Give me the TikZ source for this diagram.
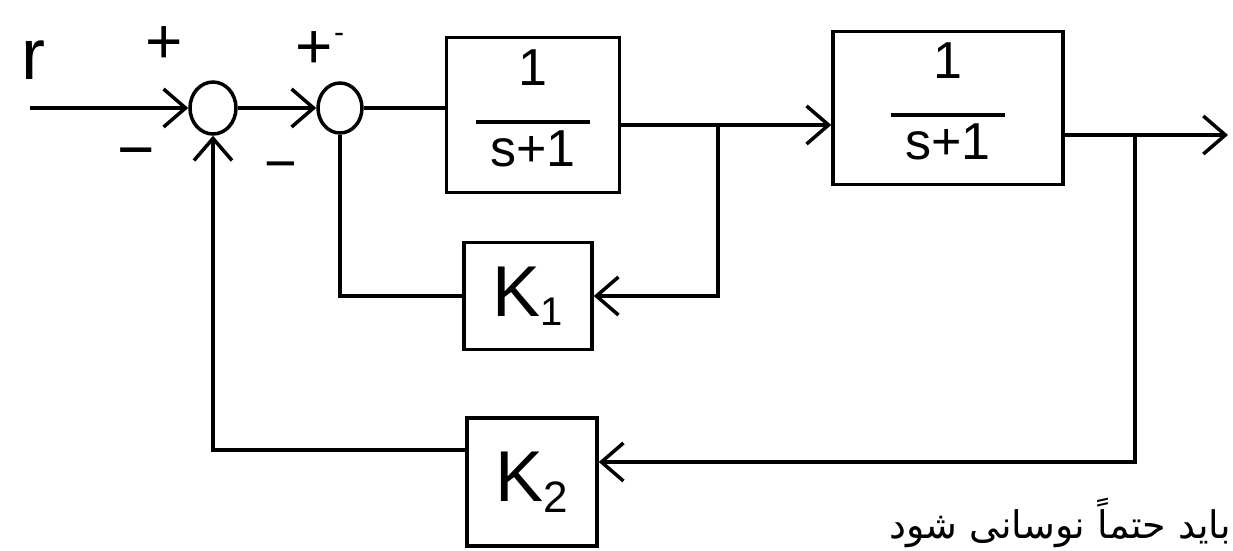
\documentclass[tikz,border=0pt]{standalone}
\usepackage{fontspec}
\setmainfont{Liberation Sans}
\newfontfamily\arabicfont[Script=Arabic]{DejaVu Sans}
\TeXXeTstate=1
\usetikzlibrary{arrows.meta,shapes.geometric}
\newcommand{\tfrac}{\begin{tabular}{@{}c@{}}1\\[-0.35em]\rule{2.2em}{3.5pt}\\[-0.25em]s+1\end{tabular}}
\begin{document}
\begin{tikzpicture}[x=1pt,y=-1pt,
  ln/.style={line width=3.5pt},
  arr/.style={ln,-{Straight Barb[length=22pt,width=38pt,line width=3.5pt]}},
  blk/.style={draw,line width=3.5pt,inner sep=0pt,font=\fontsize{52}{56}\selectfont},
  gain/.style={draw,line width=3.5pt,inner sep=0pt,font=\fontsize{72}{76}\selectfont},
  sumc/.style={draw,ellipse,line width=3.5pt,inner sep=0pt,minimum width=46pt,minimum height=52pt},
  lbl/.style={inner sep=0pt,font=\fontsize{64}{68}\selectfont}
  ]
\useasboundingbox (0,0) rectangle (1233,550);
\fill[white] (0,0) rectangle (1233,550);

% nodes
\node[sumc] (s1) at (213,108) {};
\node[sumc,minimum width=44pt,minimum height=50pt] (s2) at (340,108) {};
\node[blk,minimum width=173pt,minimum height=155pt] (b1) at (533,115) {\tfrac};
\node[blk,minimum width=230pt,minimum height=153pt] (b2) at (948,108) {\tfrac};
\node[gain,minimum width=128pt,minimum height=107pt] (k1) at (528,296) {K\raisebox{-0.12em}{\fontsize{40}{44}\selectfont 1}};
\node[gain,minimum width=130pt,minimum height=128pt] (k2) at (532,482) {K\raisebox{-0.15em}{\fontsize{44}{48}\selectfont 2}};

% labels
\node[lbl,font=\fontsize{72}{76}\selectfont] (r) at (33,60) {r};
\node[lbl] (p1) at (164,45) {+};
\node[lbl] (m1) at (136,160) {−};
\node[lbl] (p2) at (314,50) {+};
\node[lbl,font=\fontsize{30}{32}\selectfont] (p2m) at (339,38) {-};
\node[lbl,font=\fontsize{56}{60}\selectfont] (m2) at (281,172) {−};

% coordinates
\coordinate (in) at (30,108);
\coordinate (j1) at (718,125);
\coordinate (j2) at (1135,135);
\coordinate (j3) at (1135,462);
\coordinate (out) at (1228,135);
\coordinate (c4) at (213,450);

% connectors
\draw[arr] (in) -- (s1.west);
\draw[arr] (s1.east) -- (s2.west);
\draw[ln] (s2.east) -- (s2.east -| b1.west);
\draw[ln] (b1.east |- j1) -- (j1);
\draw[arr] (j1) -- (j1 -| b2.west);
\draw[arr] (j1) |- (k1.east);
\draw[ln] (k1.west) -| (s2.south);
\draw[ln] (b2.east |- j2) -- (j2);
\draw[arr] (j2) -- (out);
\draw[arr] (j2) -- (j3) -- (j3 -| k2.east);
\draw[arr] (c4 -| k2.west) -- (c4) -- (s1.south);

% note at bottom right
\node[anchor=base east,inner sep=0pt,font=\arabicfont\fontsize{38}{42}\selectfont] (note) at (1231,538) {\beginR باید حتماً نوسانی شود\endR};
\end{tikzpicture}
\end{document}
